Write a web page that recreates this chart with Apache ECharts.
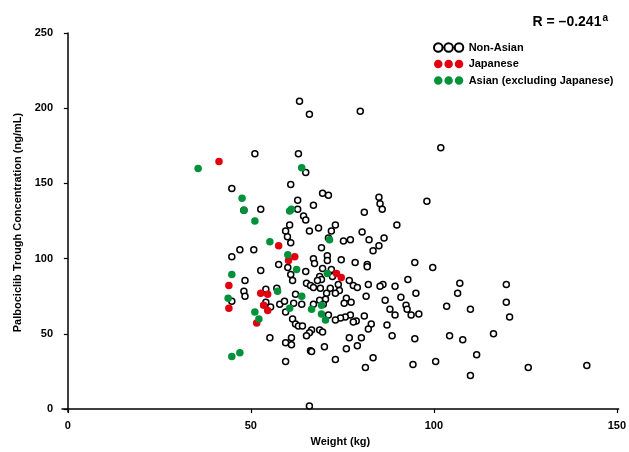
<!DOCTYPE html>
<html>
<head>
<meta charset="utf-8">
<script src="https://cdn.jsdelivr.net/npm/echarts@6/dist/echarts.min.js"></script>
<style>
  html, body { margin: 0; padding: 0; background: #fff; }
  #chart { width: 629px; height: 452px; }
</style>
</head>
<body>
<div id="chart"></div>
<script>
// weight (kg), trough concentration (ng/mL)
var nonAsian = [
  [63.3, 204.6], [66, 196], [79.9, 198], [101.9, 173.7], [63, 169.7], [51.1, 169.7],
  [65, 157.2], [60.9, 149.3], [44.8, 146.7], [69.6, 143.4], [71.2, 142.1], [85, 140.8],
  [62.8, 138.8], [85.3, 136.5], [98.1, 138.2], [67.1, 135.5], [52.7, 132.9], [48.1, 132.2],
  [62.8, 132.9], [81, 130.9], [85.9, 132.9], [64.4, 128.3], [65, 125.7], [60.6, 122.4],
  [73.1, 122.4], [89.9, 122.4], [68.5, 120.4], [59.5, 118.4], [66, 118.4], [72, 118.4],
  [80.4, 117.8], [60, 114.5], [71.2, 113.8], [86.4, 113.8], [75.3, 111.8], [77.2, 112.5],
  [82.3, 112.5], [60.9, 110.5], [85, 108.6], [69.3, 107.2], [47, 105.9], [50.8, 105.9],
  [83.4, 105.3], [70.9, 102], [44.8, 101.3], [67.1, 100], [74.7, 99.3], [70.9, 98.7],
  [78.5, 97.4], [94.8, 97.4], [67.4, 96.7], [57.6, 96.1], [81.8, 96.1], [81.8, 94.7],
  [99.7, 94.1], [60.1, 94.1], [69.6, 93.4], [72, 92.8], [52.7, 92.1], [65, 91.4],
  [60.9, 89.5], [72.3, 88.2], [68.8, 88.2], [69.3, 86.2], [92.9, 86.2], [76.9, 85.5],
  [68.2, 85.5], [61.4, 85.5], [48.4, 85.5], [65.2, 83.6], [73.9, 82.9], [82.1, 82.9],
  [86.1, 82.9], [107.1, 83.6], [119.8, 82.9], [78, 82.2], [66.3, 82.2], [89.4, 81.6],
  [85.3, 81.6], [67.1, 80.9], [79.1, 80.9], [57.1, 80.3], [69, 80.3], [71.7, 80.3],
  [54.1, 79.6], [74.2, 78.9], [48.1, 78.3], [70.7, 77], [73.1, 77], [95.1, 77],
  [106.5, 77], [62.2, 76.3], [81.5, 75], [48.4, 75], [91, 74.3], [76.1, 73.7],
  [70.4, 73], [86.7, 72.4], [77.4, 71], [75.5, 70.4], [119.8, 71], [44.8, 71.7],
  [54.1, 71], [68.8, 72.4], [61.7, 70.4], [63.9, 69.7], [69.8, 69.7], [57.9, 69.7],
  [59.2, 71.7], [67.1, 69.7], [92.4, 69.1], [103.5, 68.4], [55.4, 67.8], [59.5, 64.5],
  [88, 66.4], [92.7, 66.4], [110, 66.4], [71.2, 62.5], [77.2, 62.5], [93.8, 62.5],
  [89.4, 62.5], [95.9, 63.2], [81, 61.8], [75.8, 61.2], [120.7, 61.2], [61.4, 59.9],
  [74.5, 60.5], [73.1, 59.2], [78.8, 58.6], [78, 57.9], [62.2, 56.6], [82.9, 56.6],
  [87.2, 55.9], [63, 55.3], [64.1, 55.3], [66.6, 52.6], [68.8, 52.6], [69.6, 51.3],
  [66, 50.7], [82.1, 53.3], [116.3, 50], [65.2, 48.7], [104.3, 48.7], [88.6, 48.7],
  [55.2, 47.4], [61.1, 47.4], [76.9, 47.4], [80.2, 47.4], [94.8, 46.7], [107.9, 46.1],
  [59.5, 44.1], [61.1, 42.8], [79.1, 42.1], [70.1, 41.4], [76.1, 40.1], [66.3, 38.8],
  [66.6, 38.2], [111.7, 36.2], [83.4, 34.2], [73.1, 32.9], [59.5, 31.6], [100.5, 31.6],
  [94.3, 29.6], [141.8, 28.9], [81.3, 27.6], [125.8, 27.6], [110, 22.4], [66, 2]
];
var japanese = [
  [41.3, 164.5], [57.6, 108.6], [62, 101.3], [60.3, 98.7], [44, 82.2], [52.7, 77],
  [54.6, 76.3], [44, 67.1], [51.6, 57.2], [53.5, 69.1], [54.6, 65.5], [73.4, 90.1],
  [74.7, 87.5]
];
var asianOther = [
  [35.6, 159.9], [47.6, 140.1], [48.1, 132.2], [51.1, 125], [60.6, 131.6], [61.1, 132.9],
  [55.2, 111.2], [60.1, 102.6], [62.5, 92.8], [44.8, 89.5], [57.3, 78.3], [43.8, 73.7],
  [51.1, 64.5], [52.2, 59.9], [60.6, 67.1], [44.8, 34.9], [47, 37.5], [63.9, 160.5],
  [71.5, 112.5], [70.9, 90.1], [63.9, 75], [69.3, 69.1], [66.6, 66.4], [69.3, 63.2],
  [70.4, 59.2]
];
var xTicks = [0, 50, 100, 150];
var yTicks = [0, 50, 100, 150, 200, 250];

var FONT = "'Liberation Sans', Arial, sans-serif";
var threeDots = 'path://M0,4.5A4.5,4.5 0 1,1 9,4.5A4.5,4.5 0 1,1 0,4.5Z' +
  'M11,4.5A4.5,4.5 0 1,1 20,4.5A4.5,4.5 0 1,1 11,4.5Z' +
  'M22,4.5A4.5,4.5 0 1,1 31,4.5A4.5,4.5 0 1,1 22,4.5Z';

var chart = echarts.init(document.getElementById('chart'), null, { renderer: 'canvas' });

chart.setOption({
  animation: false,
  backgroundColor: '#fff',
  textStyle: { fontFamily: FONT },
  title: {
    text: '{r|R = \u20130.241}{s|a}',
    right: 16,
    top: 8,
    textStyle: {
      rich: {
        r: { fontFamily: FONT, fontWeight: 'bold', fontSize: 14, color: '#000' },
        s: { fontFamily: FONT, fontWeight: 'bold', fontSize: 10, color: '#000', padding: [0, 0, 9, 1] }
      }
    }
  },
  legend: {
    orient: 'vertical',
    left: 428,
    top: 37,
    itemWidth: 30,
    itemHeight: 8.5,
    itemGap: 5.5,
    icon: threeDots,
    textStyle: { fontFamily: FONT, fontWeight: 'bold', fontSize: 11, color: '#000' },
    data: ['Non-Asian', 'Japanese', 'Asian (excluding Japanese)']
  },
  grid: { left: 62, right: 7, top: 33, bottom: 36 },
  xAxis: {
    type: 'value',
    min: -1.6,
    max: 150.5,
    name: 'Weight (kg)',
    nameLocation: 'middle',
    nameGap: 20,
    nameTextStyle: { fontFamily: FONT, fontWeight: 'bold', fontSize: 11, color: '#000' },
    splitLine: { show: false },
    axisLine: { show: true, lineStyle: { color: '#000', width: 1.5 } },
    axisTick: { show: true, length: 4, customValues: xTicks, lineStyle: { color: '#000', width: 1.2 } },
    axisLabel: { customValues: xTicks, margin: 8, fontFamily: FONT, fontWeight: 'bold', fontSize: 11, color: '#000' }
  },
  yAxis: {
    type: 'value',
    min: -2,
    max: 250,
    name: 'Palbociclib Trough Concentration (ng/mL)',
    nameLocation: 'middle',
    nameGap: 37,
    nameTextStyle: { fontFamily: FONT, fontWeight: 'bold', fontSize: 11, color: '#000' },
    splitLine: { show: false },
    axisLine: { show: true, lineStyle: { color: '#000', width: 1.5 } },
    axisTick: { show: true, length: 4, customValues: yTicks, lineStyle: { color: '#000', width: 1.2 } },
    axisLabel: { customValues: yTicks, margin: 9, fontFamily: FONT, fontWeight: 'bold', fontSize: 11, color: '#000' }
  },
  series: [
    {
      name: 'Non-Asian',
      type: 'scatter',
      symbol: 'circle',
      symbolSize: 6,
      itemStyle: { color: '#fff', borderColor: '#000', borderWidth: 1.5, opacity: 1 },
      data: nonAsian
    },
    {
      name: 'Japanese',
      type: 'scatter',
      symbol: 'circle',
      symbolSize: 7.5,
      itemStyle: { color: '#e2000f', opacity: 1 },
      data: japanese
    },
    {
      name: 'Asian (excluding Japanese)',
      type: 'scatter',
      symbol: 'circle',
      symbolSize: 7.5,
      itemStyle: { color: '#00913a', opacity: 1 },
      data: asianOther
    }
  ]
});
</script>
</body>
</html>
